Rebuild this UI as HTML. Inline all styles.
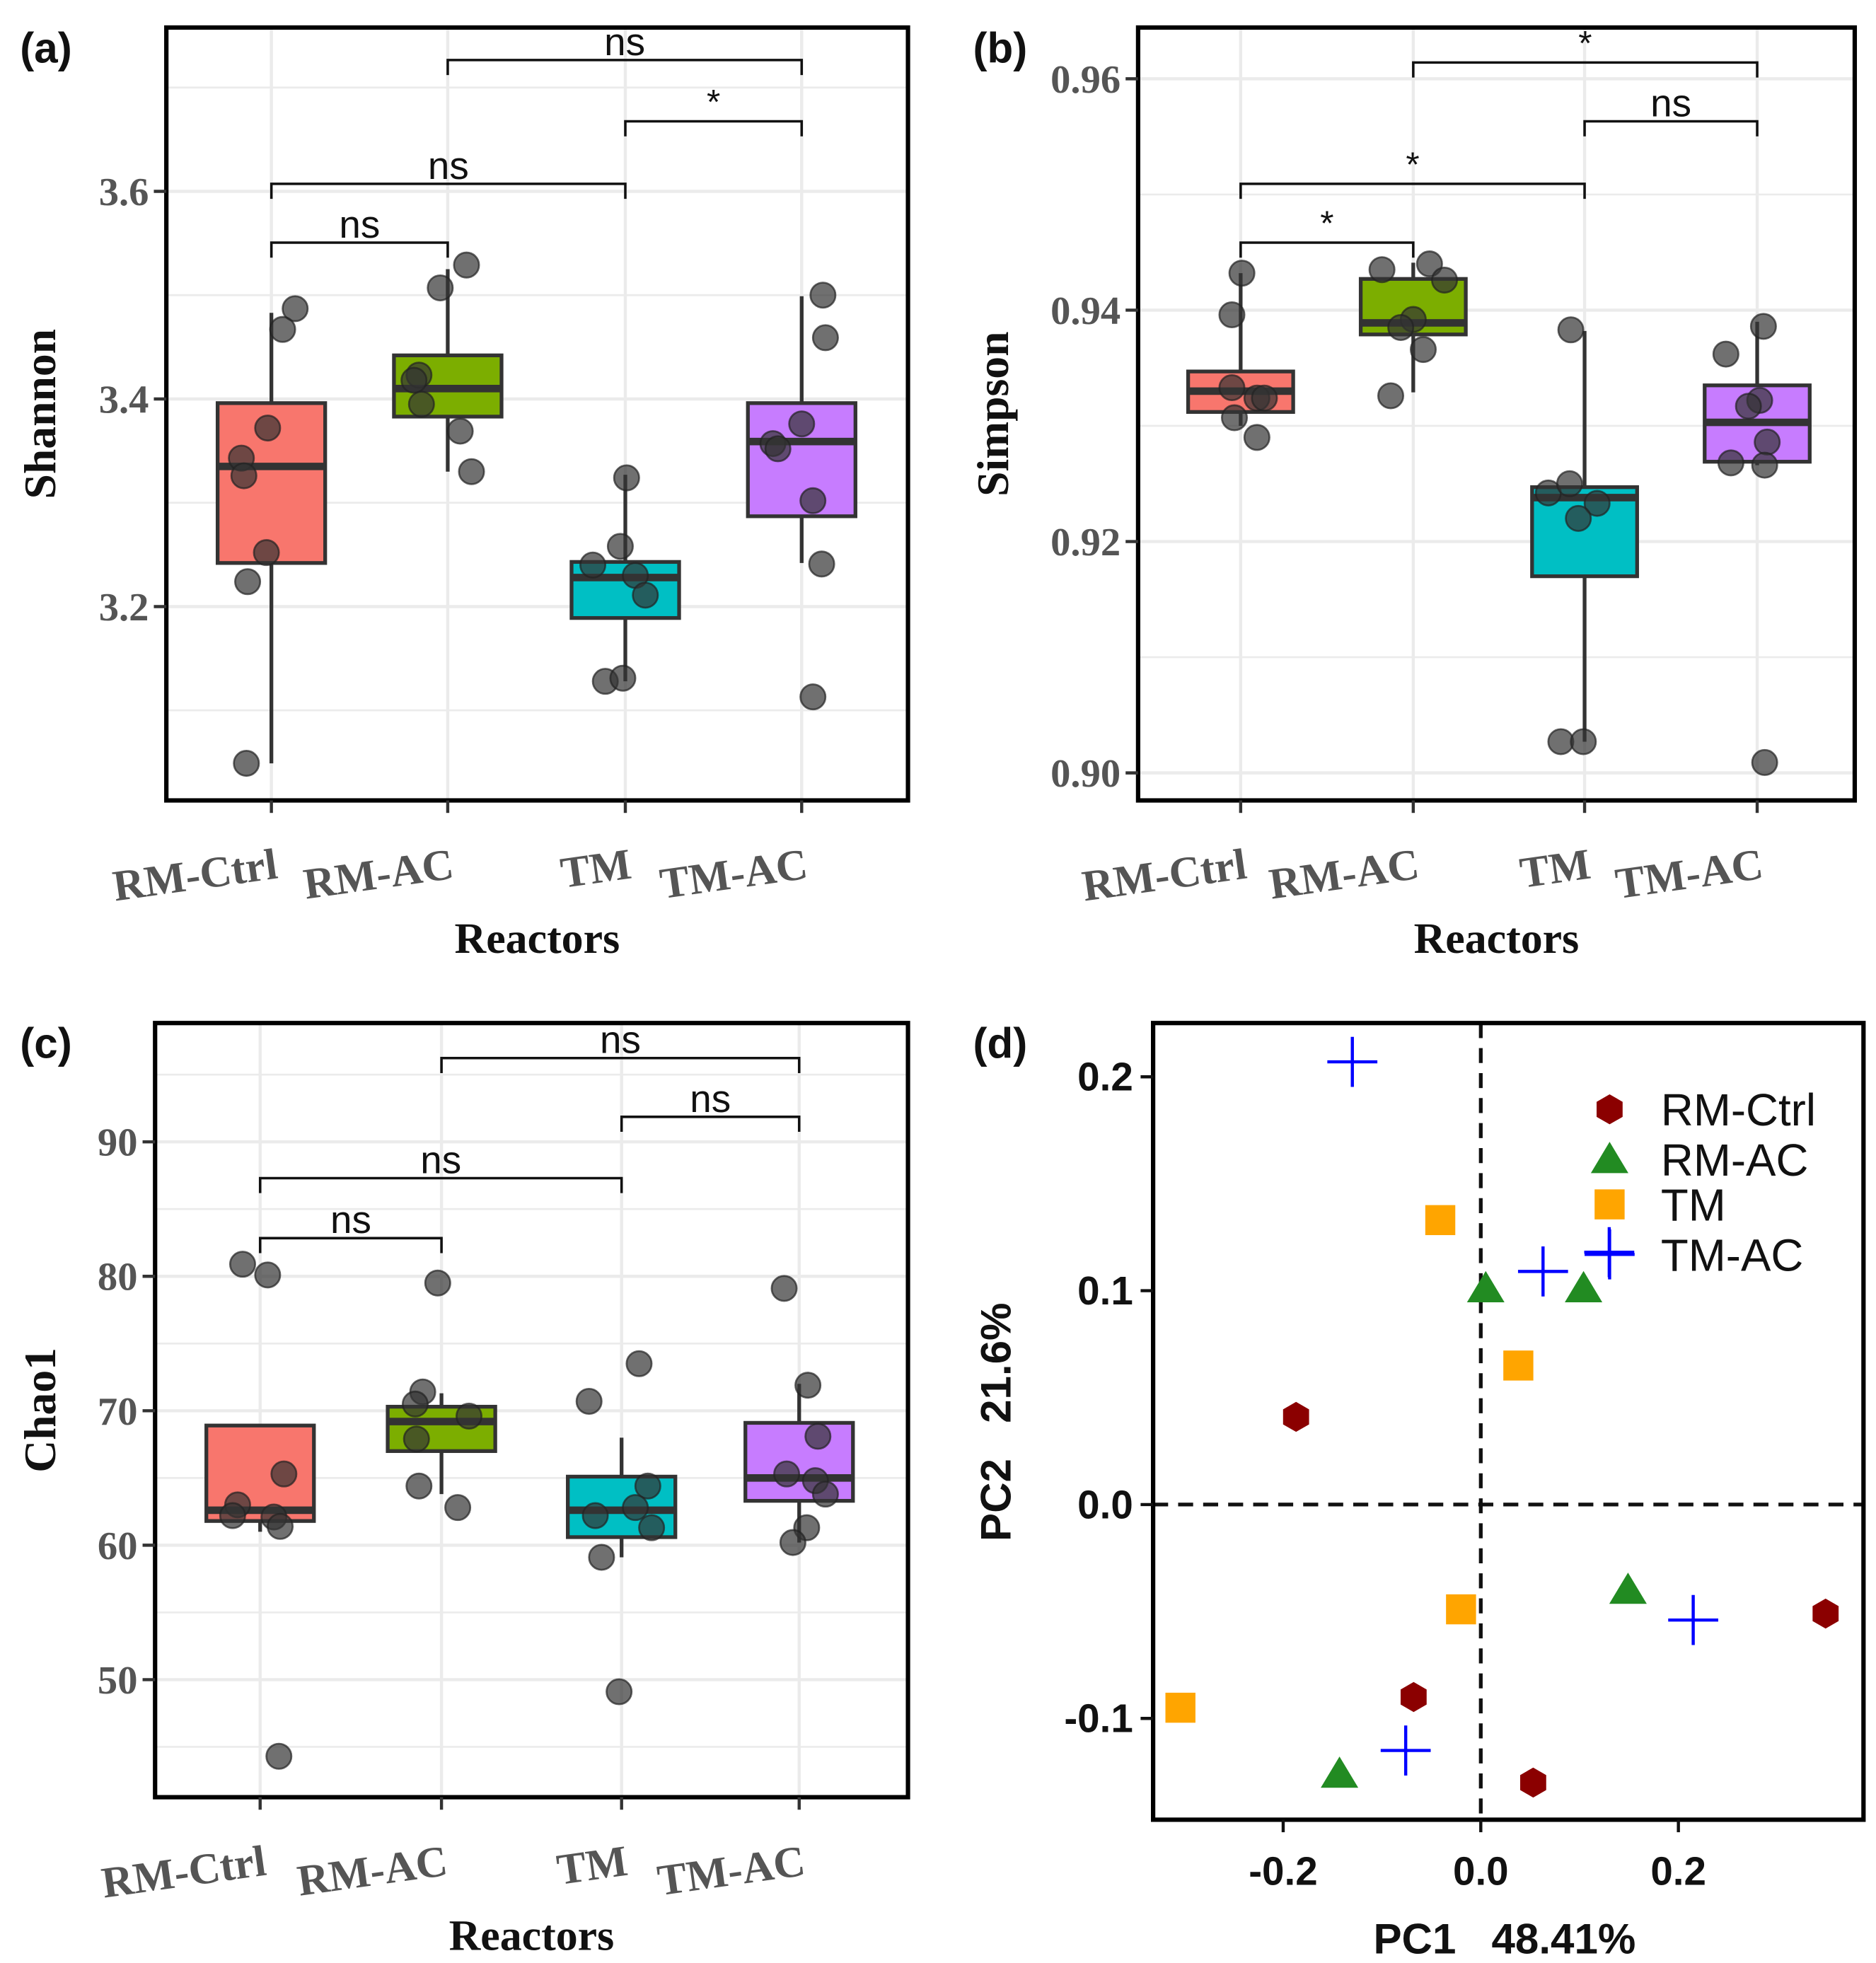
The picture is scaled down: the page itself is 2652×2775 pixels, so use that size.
<!DOCTYPE html>
<html><head><meta charset="utf-8"><style>html,body{margin:0;padding:0;background:#fff}svg{display:block}</style></head>
<body>
<svg id="fig" xmlns="http://www.w3.org/2000/svg" width="2652" height="2775" viewBox="0 0 1500 1569.57"></svg>
<script>
const groups = ["RM-Ctrl","RM-AC","TM","TM-AC"];
const fills = ["#F8766D","#7CAE00","#00BFC4","#C77CFF"];
// Shannon
const shBoxes = [[3.049,3.242,3.335,3.396,3.483],[3.330,3.383,3.410,3.442,3.525],[3.128,3.189,3.228,3.243,3.327],[3.242,3.287,3.359,3.396,3.499]];
const shPts = [[3.487,3.467,3.372,3.343,3.326,3.252,3.224,3.049],[3.529,3.507,3.423,3.418,3.395,3.369,3.330],[3.324,3.258,3.240,3.230,3.211,3.128,3.131],[3.500,3.459,3.376,3.357,3.352,3.302,3.241,3.113]];
const shJit = [[19,9,-3,-24,-22,-4,-19,-20],[15,-6,-23,-27,-21,10,19],[1,-4,-26,8,16,-16,-2],[17,19,0,-23,-19,9,16,9]];
// Simpson
const siBoxes = [[0.9300,0.9312,0.9330,0.9347,0.9432],[0.9329,0.9379,0.9389,0.9427,0.9441],[0.9027,0.9170,0.9238,0.9247,0.9382],[0.9266,0.9269,0.9303,0.9335,0.9390]];
const siPts = [[0.9432,0.9396,0.9333,0.9324,0.9324,0.9307,0.9290],[0.9435,0.9440,0.9426,0.9392,0.9385,0.9366,0.9326],[0.9383,0.9242,0.9250,0.9233,0.9220,0.9027,0.9027],[0.9386,0.9362,0.9322,0.9317,0.9286,0.9268,0.9266,0.9009]];
const siJit = [[1,-7,-7,13,19,-5,13],[-25,13,25,0,-10,8,-18],[-11,-29,-12,10,-5,-19,-1],[5,-25,2,-7,8,-21,6,6]];
// Chao1
const chBoxes = [[61.0,61.8,62.6,68.9,68.9],[63.8,67.0,69.2,70.3,71.3],[59.1,60.6,62.6,65.1,68.0],[60.2,63.3,65.0,69.1,72.0]];
const chPts = [[80.9,80.1,65.3,63.0,62.2,62.1,61.4,44.3],[79.5,71.4,70.5,69.6,67.9,64.4,62.8],[73.5,70.7,64.4,62.2,62.8,61.3,59.1,49.1],[79.1,71.9,68.1,65.3,64.8,63.8,61.3,60.2]];
const chJit = [[-14,6,19,-18,-22,11,16,15],[-3,-15,-21,22,-20,-18,13],[14,-26,21,-21,11,24,-16,-2],[-12,7,15,-10,13,21,6,-5]];
// PCA
const pcaX = [[-0.187,-0.068,0.053,0.349],[0.005,0.104,0.149,-0.143],[-0.041,0.038,-0.020,-0.304],[-0.130,0.063,0.130,0.215,-0.076]];
const pcaY = [[0.041,-0.090,-0.130,-0.051],[0.101,0.101,-0.040,-0.126],[0.133,0.065,-0.049,-0.095],[0.207,0.109,0.118,-0.054,-0.115]];
const shTicks = [3.2,3.4,3.6], siTicks=[0.90,0.92,0.94,0.96], chTicks=[50,60,70,80,90];
const pcXTicks=[-0.2,0.0,0.2], pcYTicks=[-0.1,0.0,0.1,0.2];

const NS="http://www.w3.org/2000/svg", svg=document.getElementById('fig');
function el(tag,attrs,parent,text){const e=document.createElementNS(NS,tag);for(const k in attrs)e.setAttribute(k,attrs[k]);if(text!==undefined)e.textContent=text;(parent||svg).appendChild(e);return e;}
const SERIF='"Liberation Serif",serif', SANS='"Liberation Sans",sans-serif';

function boxPanel(o){
  const g=el('g',{});
  
  
  const y=v=>o.y0+(v-o.v0)*(o.y1-o.y0)/(o.v1-o.v0);
  const xs=o.xs;
  const step=o.ticks[1]-o.ticks[0];
  for(let v=o.ticks[0]-step*1.5; v<=o.ticks[o.ticks.length-1]+step*1.5; v+=step/2){
    const py=y(v); if(py<o.top+3||py>o.bot-3)continue;
    const f=Math.abs((v-o.ticks[0])/step%1);
    el('line',{x1:o.left,x2:o.right,y1:py,y2:py,stroke:'#ebebeb','stroke-width':(f<0.01||f>0.99)?2.5:1.5},g);
  }
  xs.forEach(x=>el('line',{x1:x,x2:x,y1:o.top,y2:o.bot,stroke:'#ebebeb','stroke-width':2.5},g));
  o.boxes.forEach((b,i)=>{
    const bg=el('g',{},g);
    
    
    const x=xs[i], w=o.bw;
    el('line',{x1:x,x2:x,y1:y(b[0]),y2:y(b[4]),stroke:'#333','stroke-width':3},bg);
    el('rect',{x:x-w/2,y:y(b[3]),width:w,height:y(b[1])-y(b[3]),fill:fills[i],stroke:'#333','stroke-width':3},bg);
    el('line',{x1:x-w/2,x2:x+w/2,y1:y(b[2]),y2:y(b[2]),stroke:'#333','stroke-width':6},bg);
  });
  o.pts.forEach((arr,i)=>arr.forEach((v,j)=>{
    const c=el('circle',{cx:xs[i]+o.jit[i][j],cy:y(v),r:10,fill:'#333','fill-opacity':0.7,stroke:'#222','stroke-opacity':0.7,'stroke-width':1.5},g);
    
    
  }));
  o.br.forEach(b=>{
    const bg=el('g',{},g);
    
    
    const x1=xs[b[0]],x2=xs[b[1]];
    el('path',{d:`M${x1},${b[2]+12}V${b[2]}H${x2}V${b[2]+12}`,fill:'none',stroke:'#111','stroke-width':2},bg);
    el('text',{x:(x1+x2)/2,y:b[3]==='ns'?b[2]-4:b[2]-6,'text-anchor':'middle','font-family':SANS,'font-size':b[3]==='ns'?31:28,fill:'#111'},bg,b[3]);
  });
  const fr=el('rect',{x:o.left,y:o.top,width:o.right-o.left,height:o.bot-o.top,fill:'none',stroke:'#000','stroke-width':3.5},g);
  
  
  o.ticks.forEach(t=>{
    el('line',{x1:o.left-10,x2:o.left,y1:y(t),y2:y(t),stroke:'#333','stroke-width':2.5},g);
    const tx=el('text',{x:o.left-14,y:y(t)+11,'text-anchor':'end','font-family':SERIF,'font-size':32,'font-weight':'bold',fill:'#555'},g,t.toFixed(o.dec));
    
    
  });
  xs.forEach((x,i)=>{
    el('line',{x1:x,x2:x,y1:o.bot,y2:o.bot+10,stroke:'#333','stroke-width':2.5},g);
    const tx=el('text',{x:x+6,y:o.bot+62,'text-anchor':'end','font-family':SERIF,'font-size':35,'font-weight':'bold',fill:'#555',transform:`rotate(-8 ${x+6} ${o.bot+62})`},g,groups[i]);
    
    
  });
  const xt=el('text',{x:(o.left+o.right)/2,y:o.bot+122,'text-anchor':'middle','font-family':SERIF,'font-size':35,'font-weight':'bold',fill:'#111'},g,'Reactors');
  
  
  const yt=el('text',{x:o.ylx,y:(o.top+o.bot)/2,'text-anchor':'middle','font-family':SERIF,'font-size':36,'font-weight':'bold',fill:'#111',transform:`rotate(-90 ${o.ylx} ${(o.top+o.bot)/2})`},g,o.ylab);
  
  
  const pl=el('text',{x:o.plx,y:o.top+28,'font-family':SANS,'font-size':34,'font-weight':'bold',fill:'#111'},g,o.panel);
  
  
}

boxPanel({name:'panel-a-shannon',left:133,right:726,top:22,bot:640,v0:3.6,y0:153,v1:3.2,y1:485,xs:[217,358,500,641],bw:86,
  boxes:shBoxes,pts:shPts,jit:shJit,ticks:shTicks,dec:1,ylab:'Shannon',ylx:44,plx:16,panel:'(a)',
  br:[[0,1,194,'ns'],[0,2,147,'ns'],[2,3,97,'*'],[1,3,48,'ns']]});
boxPanel({name:'panel-b-simpson',left:910,right:1483,top:22,bot:640,v0:0.96,y0:63,v1:0.90,y1:618,xs:[992,1130,1267,1405],bw:84,
  boxes:siBoxes,pts:siPts,jit:siJit,ticks:siTicks,dec:2,ylab:'Simpson',ylx:806,plx:778,panel:'(b)',
  br:[[0,1,194,'*'],[0,2,147,'*'],[2,3,97,'ns'],[1,3,50,'*']]});
boxPanel({name:'panel-c-chao1',left:124,right:726,top:818,bot:1437,v0:90,y0:913,v1:50,y1:1343,xs:[208,353,497,639],bw:86,
  boxes:chBoxes,pts:chPts,jit:chJit,ticks:chTicks,dec:0,ylab:'Chao1',ylx:44,plx:16,panel:'(c)',
  br:[[0,1,990,'ns'],[0,2,942,'ns'],[2,3,893,'ns'],[1,3,846,'ns']]});

(function(){
  const g=el('g',{});
  
  
  const L=922,R=1490,T=818,B=1455;
  const x=v=>1184+v*790, y=v=>1203-v*1710;
  el('line',{x1:x(0),x2:x(0),y1:T,y2:B,stroke:'#111','stroke-width':3,'stroke-dasharray':'12 8'},g);
  el('line',{x1:L,x2:R,y1:y(0),y2:y(0),stroke:'#111','stroke-width':3,'stroke-dasharray':'12 8'},g);
  const cols=['#8B0000','#228B22','#FFA500','#0000FF'];
  function marker(i,cx,cy,parent){
    if(i===0){let p=[];for(let k=0;k<6;k++){const a=Math.PI/6+k*Math.PI/3;p.push((cx+12*Math.cos(a)).toFixed(1)+','+(cy+12*Math.sin(a)).toFixed(1));}return el('polygon',{points:p.join(' '),fill:cols[0]},parent);}
    if(i===1)return el('polygon',{points:`${cx},${cy-14} ${cx+15},${cy+11} ${cx-15},${cy+11}`,fill:cols[1]},parent);
    if(i===2)return el('rect',{x:cx-12,y:cy-12,width:24,height:24,fill:cols[2]},parent);
    return el('path',{d:`M${cx-20},${cy}H${cx+20}M${cx},${cy-20}V${cy+20}`,stroke:cols[3],'stroke-width':2.5},parent);
  }
  pcaX.forEach((arr,i)=>arr.forEach((v,j)=>{
    const m=marker(i,x(v),y(pcaY[i][j]),g);
    
    
  }));
  const fr=el('rect',{x:L,y:T,width:R-L,height:B-T,fill:'none',stroke:'#000','stroke-width':3.5},g);
  
  
  pcXTicks.forEach(t=>{
    el('line',{x1:x(t),x2:x(t),y1:B,y2:B+10,stroke:'#111','stroke-width':2.5},g);
    const tx=el('text',{x:x(t),y:B+52,'text-anchor':'middle','font-family':SANS,'font-size':32,'font-weight':'bold',fill:'#111'},g,t.toFixed(1));
    
    
  });
  pcYTicks.forEach(t=>{
    el('line',{x1:L-10,x2:L,y1:y(t),y2:y(t),stroke:'#111','stroke-width':2.5},g);
    const tx=el('text',{x:L-16,y:y(t)+11,'text-anchor':'end','font-family':SANS,'font-size':32,'font-weight':'bold',fill:'#111'},g,t.toFixed(1));
    
    
  });
  const xt=el('text',{x:1203,y:1562,'text-anchor':'middle','font-family':SANS,'font-size':34,'font-weight':'bold',fill:'#111',style:'white-space:pre'},g,'PC1   48.41%');
  
  
  const yt=el('text',{x:808,y:1137,'text-anchor':'middle','font-family':SANS,'font-size':34,'font-weight':'bold',fill:'#111',style:'white-space:pre',transform:'rotate(-90 808 1137)'},g,'PC2   21.6%');
  
  
  const lg=el('g',{},g);
  
  
  const ly=[887,927,963,1003];
  groups.forEach((n,i)=>{
    const e=el('g',{},lg);
    
    
    marker(i,1287,ly[i],e);
    el('text',{x:1328,y:ly[i]+13,'font-family':SANS,'font-size':36,fill:'#111'},e,n);
  });
  const pl=el('text',{x:778,y:846,'font-family':SANS,'font-size':34,'font-weight':'bold',fill:'#111'},g,'(d)');
  
  
})();
</script>
</body></html>
